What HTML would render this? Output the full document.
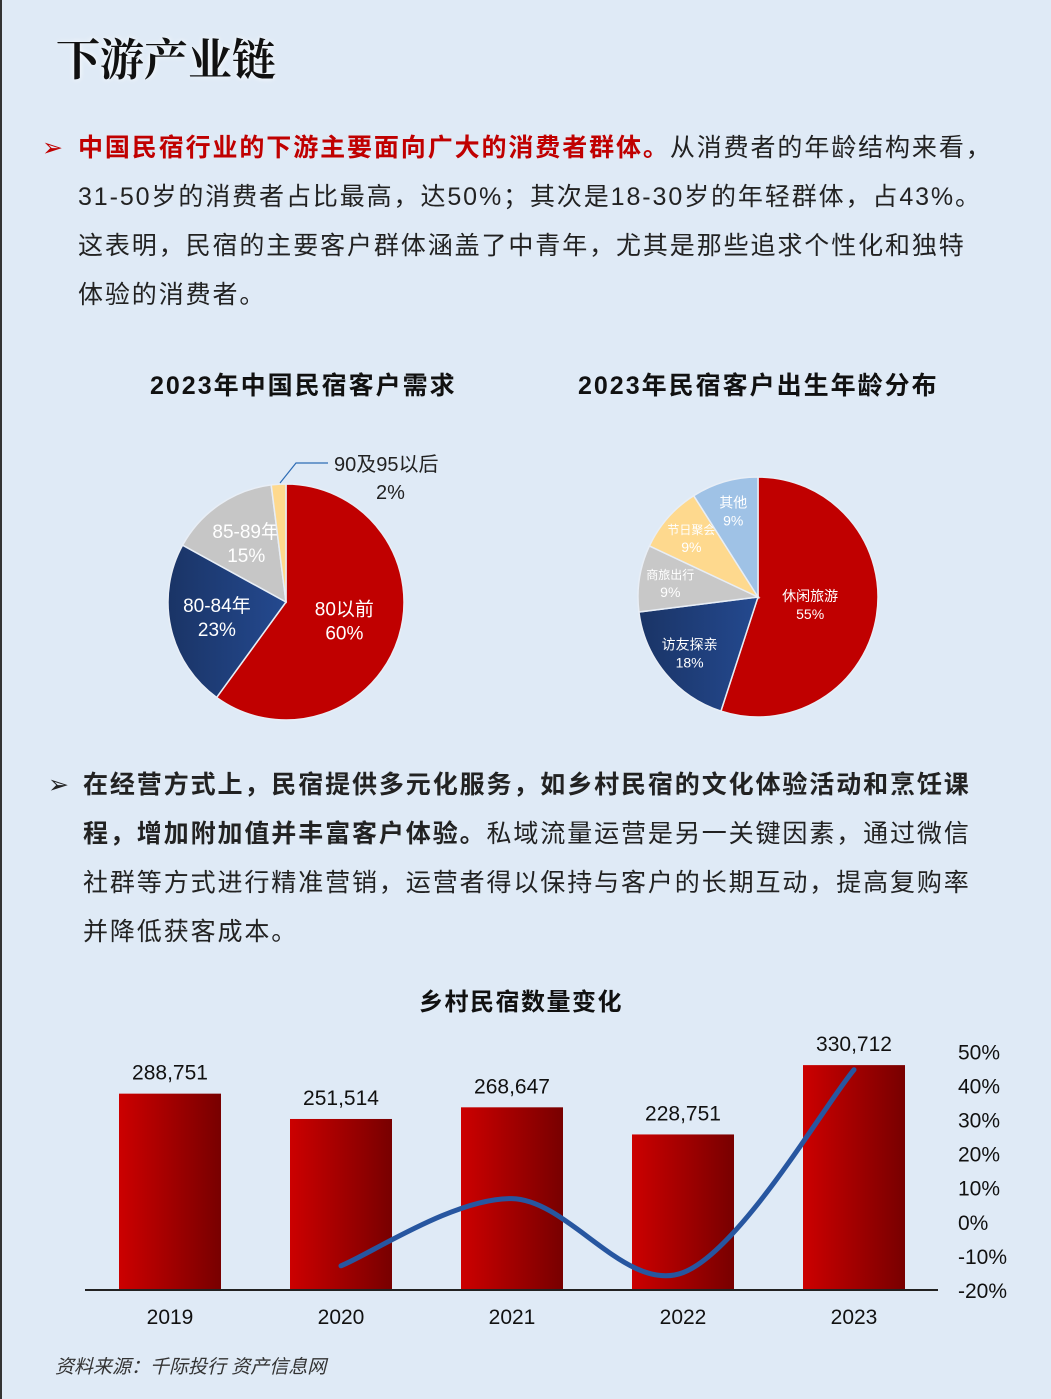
<!DOCTYPE html>
<html><head><meta charset="utf-8">
<style>
body{margin:0;width:1051px;height:1399px;background:#dfeaf6;font-family:"Liberation Sans","Noto Sans CJK SC",sans-serif;overflow:hidden;position:relative}
#lb{position:absolute;left:0;top:0;width:2px;height:1399px;background:#333}
.abs{position:absolute}
.title{left:56px;top:24px;font-family:"Liberation Serif","Noto Serif CJK SC",serif;font-size:44px;font-weight:bold;color:#111;text-shadow:0 0 6px #fff}
.para{font-size:25px;line-height:49px;color:#222;white-space:nowrap;letter-spacing:1.9px}
.red{color:#c00000;font-weight:bold}
.ct{font-size:25px;font-weight:bold;color:#111;letter-spacing:2px}
</style></head><body>
<div id="lb"></div>
<div class="abs title">下游产业链</div>
<div class="abs para" style="left:42px;top:124px;width:980px"><span style="position:absolute;left:0;top:0;color:#c00000">➢</span><div style="padding-left:36px"><span class="red">中国民宿行业的下游主要面向广大的消费者群体。</span>从消费者的年龄结构来看，<br>31-50岁的消费者占比最高，达50%；其次是18-30岁的年轻群体，占43%。<br>这表明，民宿的主要客户群体涵盖了中青年，尤其是那些追求个性化和独特<br>体验的消费者。</div></div>
<div class="abs ct" style="left:150px;top:366px">2023年中国民宿客户需求</div>
<div class="abs ct" style="left:578px;top:366px">2023年民宿客户出生年龄分布</div>
<svg class="abs" style="left:0;top:420px" width="1051" height="330" id="pies">
<defs>
<linearGradient id="navy" x1="0" x2="1"><stop offset="0" stop-color="#1a3466"/><stop offset="1" stop-color="#24498f"/></linearGradient>
</defs>
</svg>
<div class="abs para" style="left:48px;top:761px;width:980px"><span style="position:absolute;left:0;top:0;color:#222">➢</span><div style="padding-left:35px"><b>在经营方式上，民宿提供多元化服务，如乡村民宿的文化体验活动和烹饪课<br>程，增加附加值并丰富客户体验。</b>私域流量运营是另一关键因素，通过微信<br>社群等方式进行精准营销，运营者得以保持与客户的长期互动，提高复购率<br>并降低获客成本。</div></div>
<div class="abs ct" style="left:0;width:1042px;text-align:center;top:982px;font-weight:bold;font-size:24px;letter-spacing:1.5px">乡村民宿数量变化</div>
<svg class="abs" style="left:0;top:1020px" width="1051" height="320" id="bar">
<defs><linearGradient id="bg" x1="0" x2="1"><stop offset="0" stop-color="#cc0000"/><stop offset="1" stop-color="#780000"/></linearGradient></defs>
</svg>
<div class="abs" style="left:55px;top:1352px;font-size:19px;font-style:italic;color:#333">资料来源：千际投行 资产信息网</div>
<script>
const NS="http://www.w3.org/2000/svg";
function mk(p,t,a){const e=document.createElementNS(NS,t);for(const k in a)e.setAttribute(k,a[k]);p.appendChild(e);return e;}
const pie1Labels=["80以前","80-84年","85-89年","90及95以后"];
const pie1Values=[60,23,15,2];
const pie2Labels=["休闲旅游","访友探亲","商旅出行","节日聚会","其他"];
const pie2Values=[55,18,9,9,9];
const years=["2019","2020","2021","2022","2023"];
const counts=[288751,251514,268647,228751,330712];
const growth=[null,-12.9,6.8,-14.9,44.6];
const pctTicks=[50,40,30,20,10,0,-10,-20];

const pies=document.getElementById('pies');
function drawPie(cx,cy,r,vals,labels,colors,txtCols,fs,lrBig,lrSmall,gap,skip,smallFs){
  const tot=vals.reduce((a,b)=>a+b,0);let a0=0;
  vals.forEach((v,i)=>{
    const a1=a0+v/tot*2*Math.PI;
    const x0=cx+r*Math.sin(a0),y0=cy-r*Math.cos(a0),x1=cx+r*Math.sin(a1),y1=cy-r*Math.cos(a1);
    const p=mk(pies,'path',{d:`M${cx},${cy}L${x0},${y0}A${r},${r} 0 ${a1-a0>Math.PI?1:0} 1 ${x1},${y1}Z`,fill:colors[i],stroke:'#e8eef6','stroke-width':1.5});
    
    
    const m=(a0+a1)/2;
    if(skip===undefined||i!==skip){
      const lr=v/tot>0.4?lrBig:lrSmall;
      const tx=cx+r*lr*Math.sin(m),ty=cy-r*lr*Math.cos(m);
      const f=(smallFs&&labels[i].length>=4&&v/tot<0.1)?smallFs:fs;
      [labels[i],vals[i]+'%'].forEach((s,j)=>{const t=mk(pies,'text',{x:tx,y:ty+(j?gap/2+fs*0.35:-gap/2+fs*0.35),'text-anchor':'middle','font-size':j?fs:f,fill:txtCols[i]});t.textContent=s;
      
      });
    }
    a0=a1;
  });
}
drawPie(286,182,118,pie1Values,pie1Labels,["#c00000","url(#navy)","#c6c6c6","#fed98e"],["#fff","#fff","#fff","#222"],19,0.52,0.6,24,3);
mk(pies,'polyline',{points:"280,63 296,43 328,43",fill:'none',stroke:'#2f6db5','stroke-width':1.2});
let t=mk(pies,'text',{x:334,y:51,'font-size':20,fill:'#222'});t.textContent=pie1Labels[3];


t=mk(pies,'text',{x:376,y:79,'font-size':20,fill:'#222'});t.textContent=pie1Values[3]+'%';


drawPie(758,177,120,pie2Values,pie2Labels,["#c00000","url(#navy)","#c8c8c8","#fed98e","#9fc2e6"],["#fff","#fff","#fff","#fff","#fff"],14,0.44,0.74,18,undefined,12);

const bar=document.getElementById('bar');
const base=270, kY=v=>v*0.00068, xs=i=>170+i*171;
const pY=p=>base-(p+20)*3.41;
counts.forEach((v,i)=>{
  const h=kY(v);
  const r=mk(bar,'rect',{x:xs(i)-51,y:base-h,width:102,height:h,fill:'url(#bg)'});
  
  
  const l=mk(bar,'text',{x:xs(i),y:base-h-14,'text-anchor':'middle','font-size':21,fill:'#111'});l.textContent=v.toLocaleString('en-US');
  
  
  const y=mk(bar,'text',{x:xs(i),y:base+34,'text-anchor':'middle','font-size':21,fill:'#111'});y.textContent=years[i];
  
  
});
const ax=mk(bar,'line',{x1:85,x2:938,y1:base,y2:base,stroke:'#222','stroke-width':2});


pctTicks.forEach(p=>{const e=mk(bar,'text',{x:958,y:pY(p)+8,'font-size':21,fill:'#111'});e.textContent=p+'%';

});
const pts=[];growth.forEach((g,i)=>{if(g!==null)pts.push([xs(i),pY(g)]);});
let d=`M${pts[0][0]},${pts[0][1]}`;
for(let i=0;i<pts.length-1;i++){const p0=pts[i-1]||pts[i],p1=pts[i],p2=pts[i+1],p3=pts[i+2]||p2;
d+=`C${p1[0]+(p2[0]-p0[0])/6},${p1[1]+(p2[1]-p0[1])/6} ${p2[0]-(p3[0]-p1[0])/6},${p2[1]-(p3[1]-p1[1])/6} ${p2[0]},${p2[1]}`;}
const ln=mk(bar,'path',{d:d,fill:'none',stroke:'#2756a0','stroke-width':5,'stroke-linecap':'round'});


</script>
</body></html>
